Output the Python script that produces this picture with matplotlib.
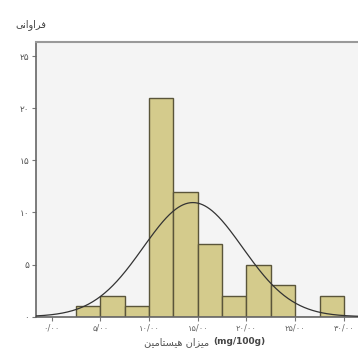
import numpy as np
import matplotlib
matplotlib.use("Agg")
import matplotlib.pyplot as plt

# Histogram data (bin edges and counts)
bin_edges = [2.5, 5.0, 7.5, 10.0, 12.5, 15.0, 17.5, 20.0, 22.5, 25.0, 27.5, 30.0]
counts = [1, 2, 1, 21, 12, 7, 2, 5, 3, 0, 2]
# Fitted normal curve parameters
fit_mean = 14.5
fit_sd = 5.1

x_ticks = [0, 5, 10, 15, 20, 25, 30]
x_tick_labels = ["۰/۰۰", "۵/۰۰", "۱۰/۰۰", "۱۵/۰۰", "۲۰/۰۰", "۲۵/۰۰", "۳۰/۰۰"]
y_ticks = [0, 5, 10, 15, 20, 25]
y_tick_labels = ["۰", "۵", "۱۰", "۱۵", "۲۰", "۲۵"]

# Pre-shaped (presentation forms, visual order) Persian labels
y_label = "\uFEF0\uFEE7\uFE8D\uFEED\uFE8D\uFEAE\uFED3"          # فراوانی
x_label_fa = ("\uFEE6\uFEF4\uFEE3\uFE8E\uFE98\uFEB4\uFEF4\uFEEB" + " " +
              "\uFEE5\uFE8D\uFEB0\uFEF4\uFEE3")                    # هیستامین میزان
x_label_unit = "(mg/100g)"

plt.rcParams['font.family'] = ['DejaVu Sans']

fig = plt.figure(figsize=(3.58, 3.54), dpi=100)
ax = fig.add_axes([0.1006, 0.1054, 0.8994, 0.7756])
ax.set_facecolor("#f4f4f4")

widths = np.diff(bin_edges)
ax.bar(bin_edges[:-1], counts, width=widths, align="edge",
       color="#d4cb8c", edgecolor="#5a553a", linewidth=1.0, zorder=2)

n_total = sum(counts)
bw = widths[0]
xs = np.linspace(-1.6, 31.5, 400)
ys = n_total * bw / (fit_sd * np.sqrt(2 * np.pi)) * np.exp(-0.5 * ((xs - fit_mean) / fit_sd) ** 2)
ax.plot(xs, ys, color="#333333", linewidth=0.9, zorder=3)

ax.set_xlim(-1.6, 31.45)
ax.set_ylim(0, 26.35)
ax.set_xticks(x_ticks)
ax.set_xticklabels(x_tick_labels, fontsize=6, color="#666666")
ax.set_yticks(y_ticks)
ax.set_yticklabels(y_tick_labels, fontsize=6.5, color="#555555")
ax.tick_params(axis="both", length=3, width=0.8, color="#777777", pad=2)

for side in ["left", "bottom"]:
    ax.spines[side].set_color("#666666")
    ax.spines[side].set_linewidth(1.2)
ax.spines["top"].set_color("#999999")
ax.spines["top"].set_linewidth(1.5)
ax.spines["right"].set_visible(False)

fig.text(0.085, 0.93, y_label, fontsize=7, color="#444444", ha="center", va="center")
fig.text(0.585, 0.034, x_label_fa, fontsize=7, color="#555555", ha="right", va="center")
fig.text(0.595, 0.034, x_label_unit, fontsize=6.5, color="#444444", ha="left", va="center",
         fontweight="bold")

fig.savefig("out.png", dpi=100)
